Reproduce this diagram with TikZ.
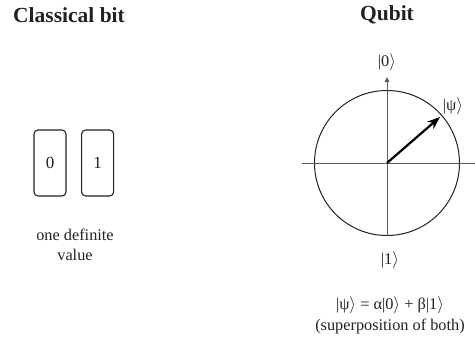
\documentclass[tikz,border=0pt]{standalone}
\usepackage{fontspec}
\setmainfont{Liberation Serif}
\usepackage{xcolor}
\definecolor{axisgray}{HTML}{5A5A5A}
\definecolor{inkdark}{HTML}{222222}
\usetikzlibrary{arrows.meta, positioning}

\tikzset{
  titletext/.style={font=\fontsize{21.5}{24}\selectfont\bfseries, text=inkdark},
  bodytext/.style={font=\fontsize{16.3}{20.5}\selectfont, text=inkdark, align=center},
  bitbox/.style={draw=inkdark, line width=1.1pt, rounded corners=4pt,
                 minimum width=32pt, minimum height=66pt, inner sep=0pt,
                 font=\fontsize{17}{20}\selectfont, text=inkdark},
  axisline/.style={draw=axisgray, line width=0.9pt,
                   -{Triangle[length=5pt, width=4.5pt]}},
}

\begin{document}
\begin{tikzpicture}[x=1pt, y=-1pt, >=Stealth]
  \useasboundingbox (0,0) rectangle (475,339);

  % classical side
  \node[titletext] (classtitle) at (69,15) {Classical bit};

  \node[bitbox] (bitzero) at (50,163) {0};
  \node[bitbox, right=14.5pt of bitzero] (bitone) {1};

  \node[bodytext] (onevalue) at (75,245) {one definite\\value};

  % qubit side
  \node[titletext] (qubittitle) at (387,15) {Qubit};

  \coordinate (origin) at (387,163);
  \coordinate (axisbottom) at (387,236);
  \coordinate (axistop) at (387,77);
  \coordinate (axisleft) at (302,163);
  \coordinate (axisright) at (481,163);
  \coordinate (psitip) at (440,117);

  \draw[draw=inkdark, line width=1pt] (origin) circle (72.5pt);

  \draw[axisline] (axisbottom) -- (axistop);
  \draw[axisline] (axisleft) -- (axisright);

  \draw[->, line width=2.2pt, black] (origin) -- (psitip);

  \node[bodytext] (ketzero) at (387,62) {|0$\rangle$};
  \node[bodytext] (ketone) at (390,260) {|1$\rangle$};
  \node[bodytext] (ketpsi) at (453,106) {|ψ$\rangle$};

  \node[bodytext] (superpos) at (390,315.5)
    {|ψ$\rangle$ = α|0$\rangle$ + β|1$\rangle$\\(superposition of both)};
\end{tikzpicture}
\end{document}
